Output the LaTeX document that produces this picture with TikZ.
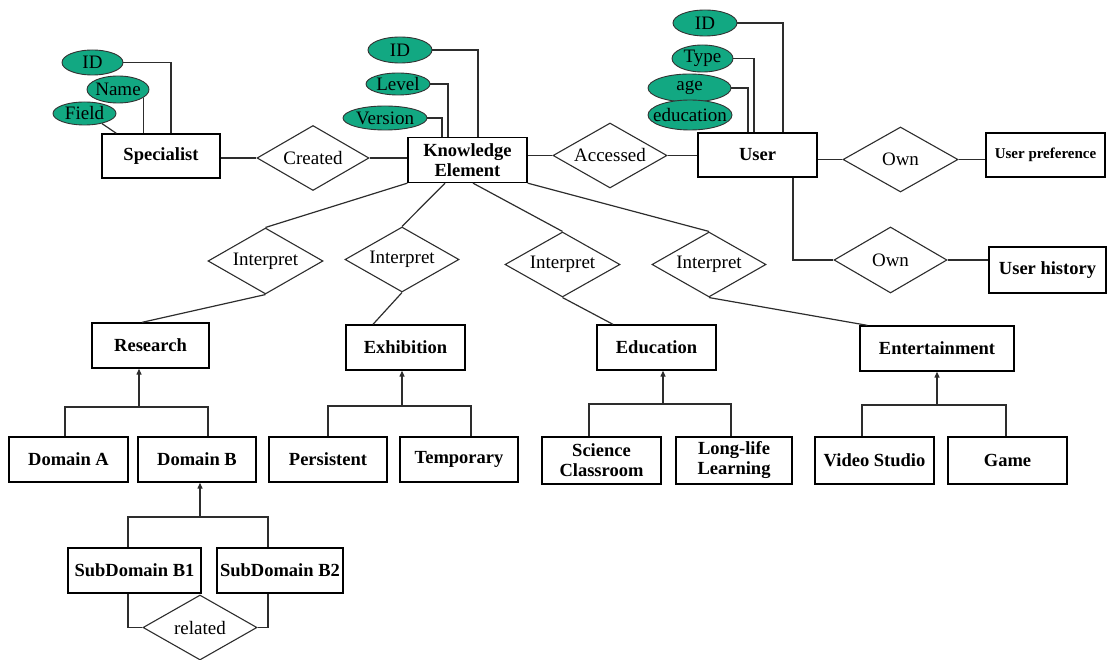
\documentclass[tikz,border=0pt]{standalone}
\usepackage{fontspec}
\setmainfont{Liberation Serif}
\usetikzlibrary{shapes.geometric,arrows.meta}
\definecolor{attrfill}{RGB}{18,168,130}
\definecolor{linegray}{RGB}{45,45,45}
\begin{document}
\begin{tikzpicture}[x=1pt,y=-1pt,
  every node/.style={font=\fontsize{19}{20}\selectfont, inner sep=0pt},
  entity/.style={draw=black, line width=1.3pt, fill=white, align=center,
    minimum width=119pt, minimum height=45pt, font=\fontsize{18.5}{20}\selectfont\bfseries},
  relation/.style={draw=linegray, line width=1.1pt, fill=white, shape=diamond, aspect=1.75,
    minimum width=114pt, minimum height=65pt},
  % attribute ovals keep their own size; the name is set as a centred label
  attr/.style={draw=black!80, line width=0.9pt, fill=attrfill, shape=ellipse,
    every label/.append style={font=\fontsize{20}{20}\selectfont, inner sep=0pt},
    label=center:{#1}},
  conn/.style={draw=linegray, line width=1.2pt},
  isa/.style={conn, -{Triangle[length=6pt,width=5pt]}}
]
\useasboundingbox (0,0) rectangle (1108,660);

% ---------- entities ----------
\node[entity, minimum width=118pt, minimum height=44pt] (spec) at (161,156) {Specialist};
\node[entity] (ke) at (467.5,160) {Knowledge\\Element};
\node[entity, minimum height=44pt] (user) at (757.5,155) {User};
\node[entity, minimum height=44pt, font=\fontsize{15}{17}\selectfont\bfseries] (upref) at (1045.5,155) {User preference};
\node[entity, minimum width=117pt, minimum height=46pt] (uhist) at (1047.5,270) {User history};

\node[entity, minimum width=117pt] (research) at (150.5,345.5) {Research};
\node[entity] (exhib) at (405.5,347.5) {Exhibition};
\node[entity] (educ) at (656.5,347.5) {Education};
\node[entity, minimum width=154pt] (entert) at (937,348.5) {Entertainment};

\node[entity] (domA) at (68.5,459.5) {Domain A};
\node[entity, minimum width=118pt] (domB) at (197,459.5) {Domain B};
\node[entity, minimum width=118pt] (persist) at (328,459.5) {Persistent};
\node[entity, minimum width=118pt] (tempo) at (459,459.5) {Temporary};
\node[entity, minimum height=47pt] (sci) at (601.5,460.5) {Science\\Classroom};
\node[entity, minimum width=116pt, minimum height=47pt] (longlife) at (734,460.5) {Long-life\\Learning};
\node[entity, minimum height=47pt] (video) at (874.5,460.5) {Video Studio};
\node[entity, minimum height=47pt] (game) at (1007.5,460.5) {Game};

\node[entity, minimum width=133pt] (subB1) at (134.5,570.5) {SubDomain B1};
\node[entity, minimum width=126pt] (subB2) at (280,570.5) {SubDomain B2};

% ---------- relationships ----------
\node[relation, minimum width=112pt] (created) at (313,158) {Created};
\node[relation] (accessed) at (610,155.5) {Accessed};
\node[relation, minimum width=115pt] (own1) at (900.5,159.5) {Own};
\node[relation, minimum width=113pt, minimum height=66pt] (own2) at (890.5,260) {Own};
\node[relation, minimum width=115pt, minimum height=66pt] (int1) at (265.5,261) {Interpret};
\node[relation] (int2) at (402,259.5) {Interpret};
\node[relation, minimum width=115pt] (int3) at (562.5,264.5) {Interpret};
\node[relation] (int4) at (709,264.5) {Interpret};
\node[relation] (related) at (200,627.5) {related};

% ---------- attributes ----------
\node[attr=ID, minimum width=61pt, minimum height=25pt] (sID) at (92.5,62.5) {};
\node[attr=Name, minimum width=62pt, minimum height=27pt] (sName) at (118,89.5) {};
\node[attr=Field, minimum width=63pt, minimum height=23pt] (sField) at (84.5,113.5) {};

\node[attr=ID, minimum width=64pt, minimum height=26pt] (kID) at (400,50) {};
\node[attr=Level, minimum width=64pt, minimum height=22pt] (kLevel) at (398,84) {};
\node[attr=Version, minimum width=84pt, minimum height=24pt] (kVer) at (385,118) {};

\node[attr=ID, minimum width=64pt, minimum height=26pt] (uID) at (705,23) {};
\node[attr=Type, minimum width=61pt, minimum height=27pt] (uType) at (702.5,58.5) {};
\node[attr=age, minimum width=83pt, minimum height=28pt] (uAge) at (689.5,88) {};
\node[attr=education, minimum width=84pt, minimum height=30pt] (uEdu) at (690,115) {};

% ---------- attribute links ----------
\draw[conn] (sID.east) -| ([xshift=10pt]spec.north);
\draw[conn] (sName.-18) -- (sName.-18 |- spec.north);
\draw[conn] (sField.-30) -- ([xshift=15pt]spec.north west);

\draw[conn] (kID.east) -| ([xshift=10.5pt]ke.north);
\draw[conn] (kLevel.east) -| ([xshift=-19.5pt]ke.north);
\draw[conn] (kVer.east) -| ([xshift=-25.5pt]ke.north);

\draw[conn] (uID.east) -| ([xshift=25.5pt]user.north);
\draw[conn] (uType.east) -| ([xshift=-3.5pt]user.north);
\draw[conn] (uAge.east) -| ([xshift=-9.5pt]user.north);

% ---------- relationship links ----------
\draw[conn] (created.west -| spec.east) -- (created.west);
\draw[conn] (created.east) -- (created.east -| ke.west);
\draw[conn] (accessed.west -| ke.east) -- (accessed.west);
\draw[conn] (accessed.east) -- (accessed.east -| user.west);
\draw[conn] (own1.west -| user.east) -- (own1.west);
\draw[conn] (own1.east) -- (own1.east -| upref.west);
\draw[conn] ([xshift=35.5pt]user.south) |- (own2.west);
\draw[conn] (own2.east) -- (own2.east -| uhist.west);

\draw[conn] (ke.south west) -- (int1.north);
\draw[conn] ([xshift=-22.5pt]ke.south) -- (int2.north);
\draw[conn] ([xshift=5.5pt]ke.south) -- (int3.north);
\draw[conn] (ke.south east) -- (int4.north);

\draw[conn] (int1.south) -- ([xshift=-8.5pt]research.north);
\draw[conn] (int2.south) -- ([xshift=-32.5pt]exhib.north);
\draw[conn] (int3.south) -- ([xshift=-43.5pt]educ.north);
\draw[conn] (int4.south) -- ([xshift=8pt]entert.north west);

% ---------- specialisation hierarchies ----------
\coordinate (jRes) at (139,407);
\draw[conn] ([xshift=-3.5pt]domA.north) |- (jRes) -| ([xshift=11pt]domB.north);
\draw[isa] (jRes) -- (jRes |- research.south);

\coordinate (jExh) at (402,406);
\draw[conn] (persist.north) |- (jExh) -| ([xshift=12pt]tempo.north);
\draw[isa] (jExh) -- (jExh |- exhib.south);

\coordinate (jEdu) at (663,404);
\draw[conn] ([xshift=-12.5pt]sci.north) |- (jEdu) -| ([xshift=-3pt]longlife.north);
\draw[isa] (jEdu) -- (jEdu |- educ.south);

\coordinate (jEnt) at (937,405);
\draw[conn] ([xshift=-12.5pt]video.north) |- (jEnt) -| ([xshift=-1.5pt]game.north);
\draw[isa] (jEnt) -- (jEnt |- entert.south);

\coordinate (jDomB) at (200,517);
\draw[conn] ([xshift=-6.5pt]subB1.north) |- (jDomB) -| ([xshift=-12pt]subB2.north);
\draw[isa] (jDomB) -- (jDomB |- domB.south);

% ---------- related ----------
\draw[conn] ([xshift=-6.5pt]subB1.south) |- (related.west);
\draw[conn] (related.east) -| ([xshift=-12pt]subB2.south);
\end{tikzpicture}
\end{document}
